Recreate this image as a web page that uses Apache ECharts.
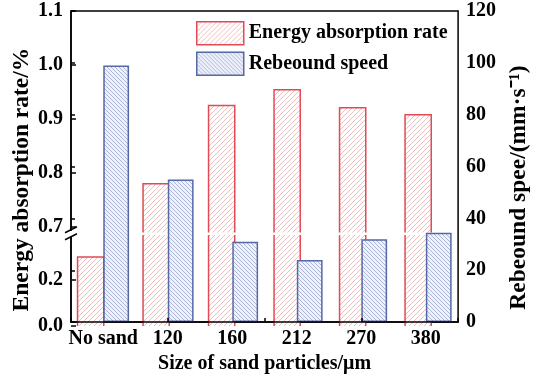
<!DOCTYPE html>
<html>
<head>
<meta charset="utf-8">
<script src="https://cdn.jsdelivr.net/npm/echarts@6/dist/echarts.min.js"></script>
<style>
  html, body { margin: 0; padding: 0; background: #fff; }
  #chart { width: 539px; height: 379px; }
</style>
</head>
<body>
<div id="chart"></div>
<script>
// Sand particle size categories
const categories = ['No sand', '120', '160', '212', '270', '380'];
// Energy absorption rate (left, broken axis)
const energyRate = [0.296, 0.78, 0.925, 0.954, 0.921, 0.908];
// Rebound speed, mm/s (right axis)
const reboundSpeed = [99, 55, 31, 24, 32, 34.5];
// Tick values of the two segments of the broken left axis
const upperTicks = [0.7, 0.8, 0.9, 1.0, 1.1];
const lowerTicks = [0.0, 0.2];
const rightTicks = [0, 20, 40, 60, 80, 100, 120];

// Layout
const L = 71, R = 75, T = 11, B = 53;
const UPPER_MIN = 0.69, UPPER_MAX = 1.1;
const LOWER_MIN = 0, LOWER_MAX = 0.39;
const UPPER_H = 221.4, LOWER_H = 90.9;
const BAR_FRAC = 0.4;

const FONT = "'Times New Roman', 'Liberation Serif', serif";
const RED = '#e24a54', BLUE = '#5668a6';

function hatch(bg, line, dir, size) {
  const c = document.createElement('canvas');
  c.width = c.height = size;
  const g = c.getContext('2d');
  g.fillStyle = bg; g.fillRect(0, 0, size, size);
  g.strokeStyle = line; g.lineWidth = 1;
  g.beginPath();
  for (const o of [-size, 0, size]) {
    if (dir > 0) { g.moveTo(o, size); g.lineTo(o + size, 0); }
    else { g.moveTo(o, 0); g.lineTo(o + size, size); }
  }
  g.stroke();
  return { image: c, repeat: 'repeat' };
}
const redFill = hatch('#ffffff', '#f3bcbc', 1, 5);
const blueFill = hatch('#f0f2f9', '#aab5d9', -1, 4);

// Red bars are split across the two segments of the broken axis;
// the outline is left open where a bar crosses the break or meets the axis.
function redPiece(lo, hi) {
  return function (params, api) {
    const i = api.value(0), v = api.value(1);
    if (v <= lo) return null;
    const capped = v > hi;
    const base = api.coord([i, lo]);
    const top = api.coord([i, Math.min(v, hi)]);
    const w = api.size([1, 0])[0] * BAR_FRAC;
    const x0 = base[0] - w, x1 = base[0], y0 = top[1], y1 = base[1];
    const edge = { fill: null, stroke: RED, lineWidth: 1.5 };
    const children = [
      { type: 'rect', shape: { x: x0, y: y0, width: w, height: y1 - y0 }, style: { fill: redFill } }
    ];
    if (capped) {
      children.push({ type: 'line', shape: { x1: x0, y1: y0, x2: x0, y2: y1 }, style: edge });
      children.push({ type: 'line', shape: { x1: x1, y1: y0, x2: x1, y2: y1 }, style: edge });
    } else {
      children.push({ type: 'polyline', shape: { points: [[x0, y1], [x0, y0], [x1, y0], [x1, y1]] }, style: edge });
    }
    return { type: 'group', children: children };
  };
}

const labelStyle = { fontFamily: FONT, fontWeight: 'bold', fontSize: 20, color: '#000' };
const nameStyle = { fontFamily: FONT, fontWeight: 'bold', fontSize: 20, color: '#000' };
const vNameStyle = { fontFamily: FONT, fontWeight: 'bold', fontSize: 23.5, color: '#000' };
const lineBlack = { lineStyle: { color: '#000', width: 1.5 } };

const chart = echarts.init(document.getElementById('chart'), null, { renderer: 'canvas' });
chart.setOption({
  animation: false,
  backgroundColor: '#fff',
  grid: [
    { left: L, right: R, top: T, bottom: B, show: true, borderColor: '#000', borderWidth: 1.5, backgroundColor: 'transparent' },
    { left: L, right: R, top: T, height: UPPER_H },
    { left: L, right: R, bottom: B, height: LOWER_H }
  ],
  legend: {
    orient: 'vertical', left: 191, top: 16, itemWidth: 47, itemHeight: 23, itemGap: 6,
    icon: 'rect', selectedMode: false,
    textStyle: nameStyle,
    data: [
      { name: 'Energy absorption rate', itemStyle: { borderColor: RED, borderWidth: 1.5 } },
      { name: 'Rebeound speed', itemStyle: { borderColor: BLUE, borderWidth: 1.5 } }
    ]
  },
  xAxis: [
    { gridIndex: 0, type: 'category', data: categories, position: 'bottom', z: 10,
      axisLine: lineBlack, axisTick: { show: false },
      axisLabel: Object.assign({ margin: 7, interval: 0 }, labelStyle),
      name: 'Size of sand particles/μm', nameLocation: 'middle', nameGap: 30, nameTextStyle: nameStyle },
    { gridIndex: 0, type: 'value', min: 0, max: 6, interval: 1.5, position: 'bottom', z: 10,
      axisLine: { show: false }, axisLabel: { show: false }, splitLine: { show: false },
      axisTick: { show: true, inside: true, length: 4, lineStyle: { color: '#000', width: 1.5 } } },
    { gridIndex: 1, type: 'category', data: categories, show: false },
    { gridIndex: 2, type: 'category', data: categories, show: false }
  ],
  yAxis: [
    { gridIndex: 0, type: 'value', position: 'right', min: 0, max: 120, interval: 20, z: 10,
      axisLine: Object.assign({ show: true }, lineBlack),
      axisTick: { show: true, inside: false, length: 4, lineStyle: { color: '#000', width: 1.5 } },
      axisLabel: Object.assign({ margin: 8, customValues: rightTicks }, labelStyle),
      splitLine: { show: false },
      name: 'Rebeound spee/(mm·s⁻¹)', nameLocation: 'middle', nameGap: 36,
      nameTextStyle: Object.assign({ padding: [0, 42, 0, 0] }, vNameStyle) },
    { gridIndex: 0, type: 'value', position: 'left', min: 0, max: 1,
      axisLine: { show: false }, axisTick: { show: false }, axisLabel: { show: false }, splitLine: { show: false },
      name: 'Energy absorption rate/%', nameLocation: 'middle', nameGap: 37,
      nameTextStyle: Object.assign({ padding: [0, 26, 0, 0] }, vNameStyle) },
    { gridIndex: 1, type: 'value', position: 'left', min: UPPER_MIN, max: UPPER_MAX,
      axisLine: { show: false }, splitLine: { show: false },
      axisTick: { show: true, inside: true, length: 5, customValues: upperTicks, lineStyle: { color: '#000', width: 1.5 } },
      axisLabel: Object.assign({ margin: 8, customValues: upperTicks, formatter: v => v.toFixed(1) }, labelStyle) },
    { gridIndex: 2, type: 'value', position: 'left', min: LOWER_MIN, max: LOWER_MAX,
      axisLine: { show: false }, splitLine: { show: false },
      axisTick: { show: true, inside: true, length: 5, customValues: lowerTicks, lineStyle: { color: '#000', width: 1.5 } },
      axisLabel: Object.assign({ margin: 8, customValues: lowerTicks, formatter: v => v.toFixed(1) }, labelStyle) }
  ],
  series: [
    { type: 'bar', name: 'Energy absorption rate', xAxisIndex: 0, yAxisIndex: 0, data: [],
      barWidth: '40%', barGap: '0%',
      itemStyle: { color: redFill, borderColor: RED, borderWidth: 1.5 } },
    { type: 'bar', name: 'Rebeound speed', xAxisIndex: 0, yAxisIndex: 0, data: reboundSpeed,
      barWidth: '40%', barGap: '0%',
      itemStyle: { color: blueFill, borderColor: BLUE, borderWidth: 1.5 } },
    { type: 'custom', name: 'Energy absorption rate', xAxisIndex: 2, yAxisIndex: 2,
      data: energyRate.map((v, i) => [i, v]), encode: { x: 0, y: 1 },
      renderItem: redPiece(UPPER_MIN, UPPER_MAX) },
    { type: 'custom', name: 'Energy absorption rate', xAxisIndex: 3, yAxisIndex: 3,
      data: energyRate.map((v, i) => [i, v]), encode: { x: 0, y: 1 },
      renderItem: redPiece(LOWER_MIN, LOWER_MAX) }
  ]
});

// Break symbol on the left axis, placed between the two segments
const yUpperBottom = chart.convertToPixel({ yAxisIndex: 2 }, UPPER_MIN);
const yLowerTop = chart.convertToPixel({ yAxisIndex: 3 }, LOWER_MAX);
const yb = (yUpperBottom + yLowerTop) / 2;
chart.setOption({
  graphic: [
    { type: 'rect', z: 100, shape: { x: L - 2, y: yb - 3, width: 4, height: 6 }, style: { fill: '#fff' } },
    { type: 'line', z: 101, shape: { x1: L - 6, y1: yb - 1, x2: L + 6, y2: yb - 7 }, style: { stroke: '#000', lineWidth: 1.5 } },
    { type: 'line', z: 101, shape: { x1: L - 6, y1: yb + 6, x2: L + 6, y2: yb }, style: { stroke: '#000', lineWidth: 1.5 } }
  ]
});
</script>
</body>
</html>
